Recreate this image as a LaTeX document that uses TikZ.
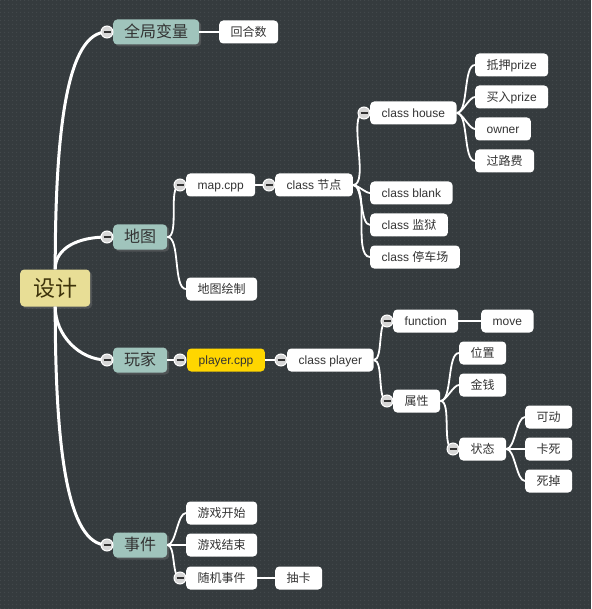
\documentclass[tikz,border=0pt]{standalone}
\usepackage{fontspec}
\setmainfont{Liberation Sans}
\newfontfamily\cjk{Noto Sans CJK SC}
\usetikzlibrary{shadows,patterns.meta}

\definecolor{boardbg}{RGB}{53,59,62}
\definecolor{boarddot}{RGB}{68,74,77}
\definecolor{topicfill}{RGB}{160,196,188}
\definecolor{rootfill}{RGB}{232,222,150}
\definecolor{roottext}{RGB}{60,50,10}
\definecolor{hotfill}{RGB}{255,214,0}
\definecolor{inktext}{RGB}{51,51,51}
\definecolor{foldfill}{RGB}{215,215,215}

\tikzdeclarepattern{
  name=boardgrid,
  type=uncolored,
  bounding box={(0pt,0pt) and (4pt,4pt)},
  tile size={(4pt,4pt)},
  code={\fill (2pt,2pt) circle (0.7pt);}
}

\tikzset{
  leaf/.style={fill=white, rounded corners=4pt, anchor=west, text=inktext,
    minimum height=23pt, inner xsep=11.5pt, inner ysep=0pt,
    text height=8.6pt, text depth=0pt, font=\fontsize{12}{14}\selectfont},
  topic/.style={leaf, fill=topicfill, minimum height=25pt, inner xsep=11pt,
    text height=11.5pt, font=\fontsize{16}{18}\selectfont,
    drop shadow={shadow xshift=2pt, shadow yshift=-2pt, opacity=0.35}},
  rootnode/.style={topic, fill=rootfill, text=roottext, minimum height=37pt,
    inner xsep=13pt, text height=16pt, font=\fontsize{22}{24}\selectfont},
  trunk/.style={draw=white, line width=3pt},
  twig/.style={draw=white, line width=1.8pt},
  sway/.style={out=0, in=180, looseness=0.6},
  fold/.style={circle, draw=white, fill=foldfill, line width=1pt,
    minimum size=12pt, inner sep=0pt,
    path picture={\draw[inktext, line width=1.2pt]
      ([xshift=-3.5pt]path picture bounding box.center) --
      ([xshift=3.5pt]path picture bounding box.center);}},
}

\begin{document}
\begin{tikzpicture}[x=1pt, y=1pt]
  \fill[boardbg] (0,0) rectangle (591,-609);
  \fill[pattern=boardgrid, pattern color=boarddot] (0,0) rectangle (591,-609);
  \useasboundingbox (0,0) rectangle (591,-609);

  % fold markers
  \coordinate (fGlobal) at (107,-32);
  \coordinate (fMap) at (107,-237);
  \coordinate (fPlayer) at (107,-360);
  \coordinate (fEvent) at (107,-545);
  \coordinate (fMapcpp) at (180,-185);
  \coordinate (fNode) at (269,-185);
  \coordinate (fHouse) at (364,-113);
  \coordinate (fPlayercpp) at (180,-360);
  \coordinate (fClassPlayer) at (281,-360);
  \coordinate (fFunc) at (387,-321);
  \coordinate (fAttr) at (387,-401);
  \coordinate (fState) at (453,-449);
  \coordinate (fRandom) at (180,-578);

  \node[rootnode] (design) at (20,-288) {\cjk 设计};

  \node[topic] (global) at (113,-32) {\cjk 全局变量};
  \node[leaf] (rounds) at (219,-32) {\cjk 回合数};

  \node[topic] (map) at (113,-237) {\cjk 地图};
  \node[leaf] (mapcpp) at (186,-185) {map.cpp};
  \node[leaf] (drawmap) at (186,-289) {\cjk 地图绘制};
  \node[leaf] (cnode) at (275,-185) {class {\cjk 节点}};
  \node[leaf] (house) at (370,-113) {class house};
  \node[leaf] (mortgage) at (475,-65) {{\cjk 抵押}prize};
  \node[leaf] (buy) at (475,-97) {{\cjk 买入}prize};
  \node[leaf] (owner) at (475,-129) {owner};
  \node[leaf] (toll) at (475,-161) {\cjk 过路费};
  \node[leaf] (blank) at (370,-193) {class blank};
  \node[leaf] (jail) at (370,-225) {class {\cjk 监狱}};
  \node[leaf] (parking) at (370,-257) {class {\cjk 停车场}};

  \node[topic] (player) at (113,-360) {\cjk 玩家};
  \node[leaf, fill=hotfill] (playercpp) at (187,-360) {player.cpp};
  \node[leaf] (cplayer) at (287,-360) {class player};
  \node[leaf] (func) at (393,-321) {function};
  \node[leaf] (move) at (481,-321) {move};
  \node[leaf] (attr) at (393,-401) {\cjk 属性};
  \node[leaf] (pos) at (459,-353) {\cjk 位置};
  \node[leaf] (money) at (459,-385) {\cjk 金钱};
  \node[leaf] (state) at (459,-449) {\cjk 状态};
  \node[leaf] (movable) at (525,-417) {\cjk 可动};
  \node[leaf] (stuck) at (525,-449) {\cjk 卡死};
  \node[leaf] (dead) at (525,-481) {\cjk 死掉};

  \node[topic] (event) at (113,-545) {\cjk 事件};
  \node[leaf] (start) at (186,-513) {\cjk 游戏开始};
  \node[leaf] (over) at (186,-545) {\cjk 游戏结束};
  \node[leaf] (random) at (186,-578) {\cjk 随机事件};
  \node[leaf] (card) at (275,-578) {\cjk 抽卡};

  % root branches
  \draw[trunk] (design.north) .. controls +(0,140) and +(-40,0) .. (fGlobal);
  \draw[trunk] (design.north) .. controls +(0,22) and +(-28,0) .. (fMap);
  \draw[trunk] (design.south) .. controls +(0,-28) and +(-28,0) .. (fPlayer);
  \draw[trunk] (design.south) .. controls +(0,-140) and +(-40,0) .. (fEvent);

  % sub branches
  \draw[twig] (global.east) -- (rounds.west);
  \draw[twig] (map.east) to[sway] (fMapcpp);
  \draw[twig] (map.east) to[sway] (drawmap.west);
  \draw[twig] (mapcpp.east) -- (fNode);
  \foreach \k in {fHouse, blank.west, jail.west, parking.west}
    \draw[twig] (cnode.east) to[sway] (\k);
  \foreach \k in {mortgage, buy, owner, toll}
    \draw[twig] (house.east) to[sway] (\k.west);
  \draw[twig] (player.east) -- (fPlayercpp);
  \draw[twig] (playercpp.east) -- (fClassPlayer);
  \draw[twig] (cplayer.east) to[sway] (fFunc);
  \draw[twig] (cplayer.east) to[sway] (fAttr);
  \draw[twig] (func.east) -- (move.west);
  \foreach \k in {pos.west, money.west, fState}
    \draw[twig] (attr.east) to[sway] (\k);
  \foreach \k in {movable, stuck, dead}
    \draw[twig] (state.east) to[sway] (\k.west);
  \foreach \k in {start.west, over.west, fRandom}
    \draw[twig] (event.east) to[sway] (\k);
  \draw[twig] (random.east) -- (card.west);

  \foreach \f in {fGlobal, fMap, fPlayer, fEvent, fMapcpp, fNode, fHouse,
    fPlayercpp, fClassPlayer, fFunc, fAttr, fState, fRandom}
    \node[fold] at (\f) {};
\end{tikzpicture}
\end{document}
